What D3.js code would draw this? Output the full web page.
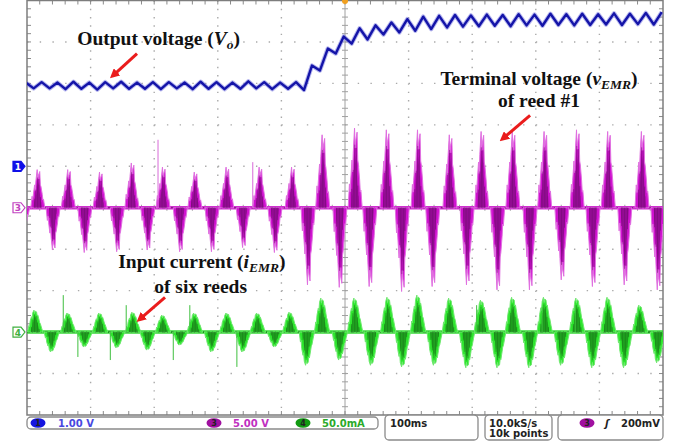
<!DOCTYPE html>
<html>
<head>
<meta charset="utf-8">
<script src="https://cdn.jsdelivr.net/npm/d3@7"></script>
<style>
  body { margin: 0; background: #fff; }
  svg { display: block; }
</style>
</head>
<body>
<script>
// ---- data ----
// time base 100 ms/div, 10 div ; 10 vertical div
var timeDomain = [-500, 500];
var majorDivs = [0, 1, 2, 3, 4, 5, 6, 7, 8, 9, 10];

// ch1 : output voltage Vo (V), one vertex every 12.5 ms starting at -502 ms
var voStart = -502, voStep = 12.5;
var voValues = [
  2.02,
  1.88, 2.03, 1.88, 2.02, 1.86, 2.04, 1.87, 2.02, 1.85, 2.03,
  1.88, 2.04, 1.87, 2.02, 1.87, 2.03, 1.86, 2.03, 1.88, 2.02,
  1.86, 2.04, 1.87, 2.03, 1.86, 2.02, 1.87, 2.05, 1.88, 2.03,
  1.86, 2.02, 1.87, 2.03, 1.84, 2.43, 2.31, 2.84, 2.72, 3.13,
  2.96, 3.33, 3.06, 3.40, 3.18, 3.47, 3.23, 3.55, 3.27, 3.61,
  3.31, 3.63, 3.35, 3.65, 3.37, 3.64, 3.38, 3.66, 3.39, 3.65,
  3.38, 3.67, 3.40, 3.66, 3.39, 3.68, 3.41, 3.67, 3.40, 3.68,
  3.41, 3.67, 3.42, 3.69, 3.41, 3.68, 3.43, 3.70, 3.42, 3.72
];

// ch3 : terminal voltage of reed #1, burst centres (ms) and peaks (V)
var vPosTimes = [-483, -435, -385, -335, -286, -236, -186, -134, -83, -35,
                 16, 66, 115, 165, 215, 264, 314, 365, 414, 467];
var vPosPeaks = [4.6, 4.6, 4.3, 5.4, 4.9, 4.3, 4.9, 4.9, 4.9, 8.8,
                 9.6, 9.4, 9.4, 8.8, 9.2, 9.2, 9.2, 9.4, 9.2, 9.2];
var vNegTimes = [-507, -459, -409, -358, -310, -259, -209, -160, -110, -58, -8,
                 39, 90, 138, 192, 240, 291, 341, 390, 440, 492];
var vNegPeaks = [-4.0, -5.1, -5.4, -5.3, -5.1, -5.3, -5.3, -4.8, -5.4, -9.3, -9.6,
                 -9.5, -10.1, -9.5, -9.3, -9.9, -9.9, -8.7, -9.5, -9.3, -9.9];
var vSpikes = [[-294, 8.2], [-145, 5.5]];

// ch4 : input current of six reeds, burst centres (ms) and peaks (mA)
var iPosTimes = [-487, -435, -385, -333, -286, -236, -185, -137, -86, -36,
                 16, 68, 115, 165, 215, 264, 314, 365, 414, 464];
var iPosPeaks = [26.5, 23, 23, 24, 20.5, 23, 23, 23, 24, 41,
                 41, 42, 44.6, 41, 38.6, 42, 42, 41, 42, 32.5];
var iNegTimes = [-461, -409, -358, -310, -259, -209, -160, -110, -60, -8,
                 42, 91, 141, 192, 241, 291, 341, 390, 440, 492];
var iNegPeaks = [-24, -18, -19, -21.7, -15.7, -24, -24, -18, -40, -33.7,
                 -40, -42, -40, -43, -43, -43, -40, -43, -43, -37];
var iSpikes = [[-443, 44.6], [-420, -30], [-369, -33.7], [-344, 32.5], [-270, -33.7],
               [-244, 32.5], [-170, -42], [207, 32.5], [310, 30], [362, 32.5]];

// burst outlines: [offset ms, fraction of peak]
var vProfile = [[-11, 0], [-9, 0.3], [-8, 0.2], [-7, 0.35], [-5, 0.6], [-4, 0.45], [-3, 0.7],
                [-1, 1], [0, 0.75], [1, 0.85], [3, 0.95], [4, 0.6], [5, 0.55], [7, 0.35],
                [8, 0.2], [9, 0.22], [11, 0]];
var iProfile = [[-12, 0], [-10, 0.3], [-9, 0.25], [-8, 0.5], [-6, 0.7], [-5, 0.62], [-4, 0.88],
                [-2, 1], [-1, 0.85], [0, 0.95], [2, 0.92], [3, 0.75], [4, 0.78], [6, 0.55],
                [7, 0.42], [8, 0.38], [10, 0.18], [12, 0]];

// channel settings: units per division and marker position (div)
var ch1 = { perDiv: 1, offset: 1 };
var ch3 = { perDiv: 5, offset: 0 };
var ch4 = { perDiv: 50, offset: -3 };

// ---- chart ----
var W = 690, H = 446;
var plot = { left: 27, top: 0.5, right: 663, bottom: 415 };

var svg = d3.select('body').append('svg')
  .attr('width', W).attr('height', H)
  .style('font-family', 'DejaVu Sans, sans-serif');

var x = d3.scaleLinear().domain(timeDomain).range([plot.left, plot.right]);
var xDiv = d3.scaleLinear().domain([0, 10]).range([plot.left, plot.right]);
var yDiv = d3.scaleLinear().domain([-5, 5]).range([plot.bottom, plot.top]);

function chScale(ch) {
  return d3.scaleLinear()
    .domain([(-5 - ch.offset) * ch.perDiv, (5 - ch.offset) * ch.perDiv])
    .range([plot.bottom, plot.top]);
}
var y1 = chScale(ch1), y3 = chScale(ch3), y4 = chScale(ch4);

svg.append('clipPath').attr('id', 'clip').append('rect')
  .attr('x', plot.left).attr('y', plot.top)
  .attr('width', plot.right - plot.left).attr('height', plot.bottom - plot.top);

// grid
var grid = svg.append('g');
var minorX = (plot.right - plot.left) / 50, minorY = (plot.bottom - plot.top) / 50;
majorDivs.slice(1, -1).forEach(function (d) {
  if (d === 5) return;
  grid.append('line')
    .attr('x1', xDiv(d)).attr('x2', xDiv(d)).attr('y1', plot.top).attr('y2', plot.bottom)
    .attr('stroke', '#a9a9a9').attr('stroke-width', 1.4)
    .attr('stroke-dasharray', '1.4,' + (minorY - 1.4));
  var yv = d - 5;
  grid.append('line')
    .attr('y1', yDiv(yv)).attr('y2', yDiv(yv)).attr('x1', plot.left).attr('x2', plot.right)
    .attr('stroke', '#a9a9a9').attr('stroke-width', 1.4)
    .attr('stroke-dasharray', '1.4,' + (minorX - 1.4));
});
// centre cross with minor ticks
grid.append('line').attr('x1', xDiv(5)).attr('x2', xDiv(5))
  .attr('y1', plot.top).attr('y2', plot.bottom).attr('stroke', '#a0a0a0').attr('stroke-width', 1);
grid.append('line').attr('y1', yDiv(0)).attr('y2', yDiv(0))
  .attr('x1', plot.left).attr('x2', plot.right).attr('stroke', '#a0a0a0').attr('stroke-width', 1);
d3.range(1, 50).forEach(function (i) {
  var yy = plot.top + i * minorY, xx = plot.left + i * minorX;
  grid.append('line').attr('x1', xDiv(5) - 3).attr('x2', xDiv(5) + 3).attr('y1', yy).attr('y2', yy)
    .attr('stroke', '#a0a0a0');
  grid.append('line').attr('y1', yDiv(0) - 3).attr('y2', yDiv(0) + 3).attr('x1', xx).attr('x2', xx)
    .attr('stroke', '#a0a0a0');
  // border ticks
  grid.append('line').attr('x1', plot.left).attr('x2', plot.left + 4).attr('y1', yy).attr('y2', yy)
    .attr('stroke', '#8a8a8a');
  grid.append('line').attr('x1', plot.right - 4).attr('x2', plot.right).attr('y1', yy).attr('y2', yy)
    .attr('stroke', '#8a8a8a');
  grid.append('line').attr('y1', plot.top).attr('y2', plot.top + 4).attr('x1', xx).attr('x2', xx)
    .attr('stroke', '#8a8a8a');
  grid.append('line').attr('y1', plot.bottom - 4).attr('y2', plot.bottom).attr('x1', xx).attr('x2', xx)
    .attr('stroke', '#8a8a8a');
});
grid.append('rect')
  .attr('x', plot.left).attr('y', plot.top)
  .attr('width', plot.right - plot.left).attr('height', plot.bottom - plot.top)
  .attr('fill', 'none').attr('stroke', '#7d7d7d').attr('stroke-width', 1.5);

var traces = svg.append('g').attr('clip-path', 'url(#clip)');

// bursts for a channel: bright envelope, darker core
function drawBursts(g, times, peaks, profile, ys, edge, light, dark) {
  var area = d3.area()
    .x(function (d) { return x(d[0]); })
    .y0(ys(0))
    .y1(function (d) { return ys(d[1]); });
  times.forEach(function (t, i) {
    var pts = profile.map(function (p) { return [t + p[0], peaks[i] * p[1]]; });
    g.append('path').datum(pts).attr('d', area)
      .attr('fill', light).attr('stroke', edge).attr('stroke-width', 1)
      .attr('stroke-linejoin', 'miter');
    var core = profile.map(function (p) { return [t + p[0] * 0.6, peaks[i] * p[1] * 0.72]; });
    g.append('path').datum(core).attr('d', area)
      .attr('fill', dark).attr('opacity', 0.4);
    core.forEach(function (p, j) {
      if (j % 3 === 1) {
        g.append('line')
          .attr('x1', x(p[0])).attr('x2', x(p[0]))
          .attr('y1', ys(0)).attr('y2', ys(p[1] * 1.1))
          .attr('stroke', dark).attr('stroke-width', 0.8).attr('opacity', 0.6);
      }
    });
  });
}

function drawBaseline(g, ys, light, dark) {
  g.append('line').attr('x1', plot.left).attr('x2', plot.right)
    .attr('y1', ys(0)).attr('y2', ys(0)).attr('stroke', light).attr('stroke-width', 3.5);
  g.append('line').attr('x1', plot.left).attr('x2', plot.right)
    .attr('y1', ys(0)).attr('y2', ys(0)).attr('stroke', dark).attr('stroke-width', 1.2)
    .attr('stroke-dasharray', '3,2,1,3');
}

function drawSpikes(g, spikes, ys, color) {
  g.selectAll(null).data(spikes).enter().append('line')
    .attr('x1', function (d) { return x(d[0]); })
    .attr('x2', function (d) { return x(d[0]); })
    .attr('y1', ys(0))
    .attr('y2', function (d) { return ys(d[1]); })
    .attr('stroke', color).attr('stroke-width', 1);
}

// ch3 magenta
var g3 = traces.append('g');
drawBaseline(g3, y3, '#cf2fcf', '#6e1a6e');
drawBursts(g3, vPosTimes, vPosPeaks, vProfile, y3, '#e070e0', '#d012d0', '#5e0a5e');
drawBursts(g3, vNegTimes, vNegPeaks, vProfile, y3, '#e070e0', '#d012d0', '#5e0a5e');
drawSpikes(g3, vSpikes, y3, '#d86ad8');

// ch4 green
var g4 = traces.append('g');
drawBaseline(g4, y4, '#39d839', '#1c6e1c');
drawBursts(g4, iPosTimes, iPosPeaks, iProfile, y4, '#6ee86e', '#2ee62e', '#145f14');
drawBursts(g4, iNegTimes, iNegPeaks, iProfile, y4, '#6ee86e', '#2ee62e', '#145f14');
drawSpikes(g4, iSpikes, y4, '#3fbf3f');

// ch1 blue
var voLine = d3.line()
  .x(function (d, i) { return x(voStart + i * voStep); })
  .y(function (d) { return y1(d); });
traces.append('path').datum(voValues).attr('d', voLine)
  .attr('fill', 'none').attr('stroke', '#7070e0').attr('stroke-width', 4.4).attr('opacity', 0.5)
  .attr('stroke-linejoin', 'round');
traces.append('path').datum(voValues).attr('d', voLine)
  .attr('fill', 'none').attr('stroke', '#1414a8').attr('stroke-width', 2.4)
  .attr('stroke-linejoin', 'round');

// trigger marker
svg.append('circle').attr('cx', x(0)).attr('cy', 1).attr('r', 3).attr('fill', '#f0a020');

// channel markers on the left edge
function marker(ch, label, color, filled) {
  var yy = yDiv(ch.offset);
  var gx = svg.append('g').attr('transform', 'translate(' + (plot.left - 14) + ',' + yy + ')');
  gx.append('path').attr('d', 'M0,-5 H8 L12,0 L8,5 H0 Z')
    .attr('fill', filled ? color : '#fff').attr('stroke', color).attr('stroke-width', 1.2);
  gx.append('text').attr('x', 5).attr('y', 3.5).attr('text-anchor', 'middle')
    .attr('font-size', 9).attr('font-weight', 'bold')
    .attr('fill', filled ? '#fff' : color).text(label);
}
marker(ch1, '1', '#1010e8', true);
marker(ch3, '3', '#c040c0', false);
marker(ch4, '4', '#40b040', false);

// annotations
var ann = svg.append('g').style('font-family', 'Liberation Serif, Times New Roman, serif')
  .attr('font-weight', 'bold').attr('font-size', 19.5).attr('fill', '#111');

var t1 = ann.append('text').attr('x', xDiv(0.79)).attr('y', yDiv(3.92));
t1.append('tspan').text('Output voltage (');
t1.append('tspan').attr('font-style', 'italic').text('V');
t1.append('tspan').attr('font-style', 'italic').attr('font-size', 13.5).attr('dy', 4).text('o');
t1.append('tspan').attr('dy', -4).text(')');

var t2 = ann.append('text').attr('x', xDiv(8.05)).attr('y', yDiv(2.95)).attr('text-anchor', 'middle');
t2.append('tspan').text('Terminal voltage (');
t2.append('tspan').attr('font-style', 'italic').text('v');
t2.append('tspan').attr('font-style', 'italic').attr('font-size', 13.5).attr('dy', 4).text('EMR');
t2.append('tspan').attr('dy', -4).text(')');
ann.append('text').attr('x', xDiv(8.05)).attr('y', yDiv(2.42)).attr('text-anchor', 'middle')
  .text('of reed #1');

var t3 = ann.append('text').attr('x', xDiv(2.75)).attr('y', yDiv(-1.46)).attr('text-anchor', 'middle');
t3.append('tspan').text('Input current (');
t3.append('tspan').attr('font-style', 'italic').text('i');
t3.append('tspan').attr('font-style', 'italic').attr('font-size', 13.5).attr('dy', 4).text('EMR');
t3.append('tspan').attr('dy', -4).text(')');
ann.append('text').attr('x', xDiv(2.73)).attr('y', yDiv(-2.06)).attr('text-anchor', 'middle')
  .text('of six reeds');

// red arrows
svg.append('defs').append('marker').attr('id', 'head')
  .attr('viewBox', '0 0 10 10').attr('refX', 5).attr('refY', 5)
  .attr('markerWidth', 3.2).attr('markerHeight', 3.2).attr('orient', 'auto')
  .append('path').attr('d', 'M0,0 L10,5 L0,10 Z').attr('fill', '#ea1c1c');
[[[1.73, 3.72], [1.36, 3.2]], [[7.91, 2.23], [7.49, 1.68]], [[2.17, -2.16], [1.78, -2.68]]]
  .forEach(function (a) {
    svg.append('line')
      .attr('x1', xDiv(a[0][0])).attr('y1', yDiv(a[0][1]))
      .attr('x2', xDiv(a[1][0])).attr('y2', yDiv(a[1][1]))
      .attr('stroke', '#ea1c1c').attr('stroke-width', 3)
      .attr('marker-end', 'url(#head)');
  });

// status bar
var sb = svg.append('g').attr('font-size', 10).attr('font-weight', 'bold');
function box(x0, x1, y0, y1) {
  sb.append('rect').attr('x', x0).attr('y', y0).attr('width', x1 - x0).attr('height', y1 - y0)
    .attr('rx', 4).attr('fill', '#fff').attr('stroke', '#8a8a8a').attr('stroke-width', 1.3);
}
function badge(cx, cy, label, color) {
  sb.append('ellipse').attr('cx', cx).attr('cy', cy).attr('rx', 7.5).attr('ry', 4.8).attr('fill', color);
  sb.append('text').attr('x', cx).attr('y', cy + 3).attr('text-anchor', 'middle')
    .attr('font-size', 8).attr('fill', '#222').text(label);
}
box(27, 378, 417, 429);
badge(38, 423, '1', '#1515e0');
sb.append('text').attr('x', 58).attr('y', 427).attr('fill', '#4848e0').text('1.00 V');
badge(214, 423, '3', '#a010a0');
sb.append('text').attr('x', 233).attr('y', 427).attr('fill', '#c030c0').text('5.00 V');
badge(303, 423, '4', '#119a11');
sb.append('text').attr('x', 322).attr('y', 427).attr('fill', '#2aaa2a').text('50.0mA');

box(385, 478, 415, 440);
sb.append('text').attr('x', 390).attr('y', 427).attr('fill', '#222').text('100ms');
box(485, 552, 415, 440);
sb.append('text').attr('x', 489).attr('y', 427).attr('fill', '#222').text('10.0kS/s');
sb.append('text').attr('x', 489).attr('y', 437).attr('fill', '#222').text('10k points');
box(558, 663, 415, 440);
badge(587, 423, '3', '#a010a0');
sb.append('text').attr('x', 605).attr('y', 427).attr('fill', '#222').attr('font-style', 'italic').text('\u0283');
sb.append('text').attr('x', 660).attr('y', 427).attr('text-anchor', 'end').attr('fill', '#222').text('200mV');
</script>
</body>
</html>
